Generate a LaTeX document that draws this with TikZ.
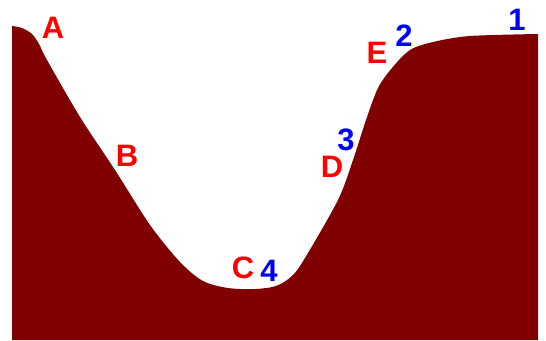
\documentclass[tikz,border=0pt]{standalone}
\usepackage{fontspec}
\setmainfont{Liberation Sans}
\usetikzlibrary{positioning}
\definecolor{valley}{RGB}{128,0,0}
\definecolor{lettered}{RGB}{255,0,0}
\definecolor{numblue}{RGB}{0,0,255}

\begin{document}
\begin{tikzpicture}[x=1pt,y=-1pt,font=\fontsize{31}{31}\selectfont\bfseries,
    letterlbl/.style={lettered,inner sep=0pt},
    numlbl/.style={numblue,inner sep=0pt}]
  \useasboundingbox (0,0) rectangle (546,340);
  % ground profile of the valley
  \fill[valley] (12,340) -- (12,26) -- plot[smooth,tension=0.5]
     coordinates {(12,26) (22,28) (32,34) (39,44) (47,60) (80,117) (115,170)
                  (150,225) (180,262) (203,281) (228,288) (255,289) (276,286)
                  (292,276) (305,258) (338,200) (353,160) (366,120) (378,88)
                  (392,68) (410,50) (433,42) (470,36) (538,34)}
     -- (538,340) -- cycle;
  % letters on the slopes
  \foreach \t/\x/\y in {A/53/28,B/127/156,C/243/268,D/332/167,E/377/53}
    \node[letterlbl] (lbl\t) at (\x,\y) {\t};
  % numbered points
  \foreach \t/\x/\y in {1/517/20,2/404/36,3/346/140,4/269/271}
    \node[numlbl] (pt\t) at (\x,\y) {\t};
\end{tikzpicture}
\end{document}
